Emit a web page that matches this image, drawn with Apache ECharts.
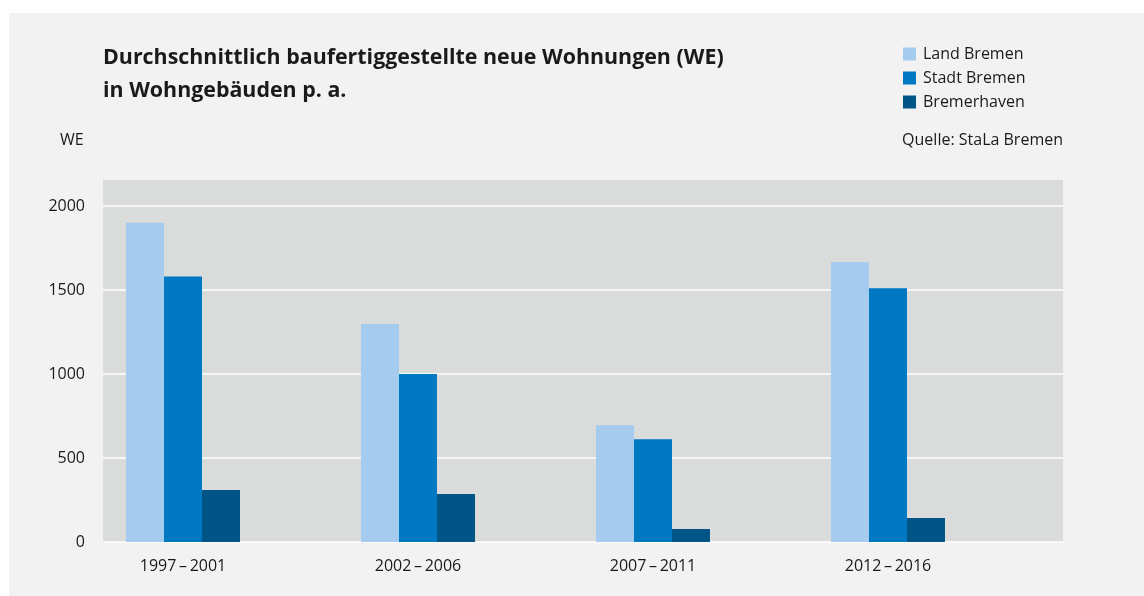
<!DOCTYPE html>
<html>
<head>
<meta charset="utf-8">
<script src="https://cdn.jsdelivr.net/npm/echarts@6/dist/echarts.min.js"></script>
<style>
  html, body { margin: 0; padding: 0; background: #ffffff; }
  #main { width: 1144px; height: 596px; }
</style>
</head>
<body>
<div id="main"></div>
<script>
// Data
const periods = ["1997\u2009–\u20092001", "2002\u2009–\u20092006", "2007\u2009–\u20092011", "2012\u2009–\u20092016"];
const landBremen = [1900, 1298, 695, 1666];
const stadtBremen = [1581, 1000, 612, 1511];
const bremerhaven = [310, 286, 77, 143];
const yTicks = [0, 500, 1000, 1500, 2000];

const font = "'Open Sans', 'Noto Sans', sans-serif";
let myChart = echarts.init(document.getElementById("main"));

let options = {
  backgroundColor: "#ffffff",
  textStyle: { fontFamily: font },
  animation: false,
  title: {
    text: "Durchschnittlich baufertiggestellte neue Wohnungen (WE)\nin Wohngebäuden p. a.",
    left: 98,
    top: 36,
    textStyle: { fontSize: 21.4, fontWeight: "bold", color: "#1a1a1a", lineHeight: 33, fontFamily: font }
  },
  legend: {
    orient: "vertical",
    left: 898,
    top: 41,
    itemWidth: 13,
    itemHeight: 13,
    itemGap: 8,
    icon: "rect",
    textStyle: { fontSize: 16, color: "#1a1a1a", lineHeight: 13, padding: [0, 0, 0, 2] },
    data: ["Land Bremen", "Stadt Bremen", "Bremerhaven"]
  },
  graphic: [
    { type: "rect", z: -10, shape: { x: 9, y: 13, width: 1135, height: 583 }, style: { fill: "#f2f2f2" } },
    { type: "rect", z: -5, shape: { x: 103, y: 180, width: 960, height: 362 }, style: { fill: "#dadbdb" } },
    { type: "text", left: 60, top: 132, style: { text: "WE", fontSize: 16, fill: "#1a1a1a", fontFamily: font } },
    { type: "text", right: 81, top: 132, style: { text: "Quelle: StaLa Bremen", fontSize: 16, fill: "#1a1a1a", fontFamily: font } }
  ],
  grid: [
    // background grid for y axis and split lines
    { left: 103, right: 81, top: 206, bottom: 54 },
    // bar grid, shifted so groups sit where the reference has them
    { left: 65.5, right: 138.5, top: 206, bottom: 54 }
  ],
  xAxis: [
    { gridIndex: 0, type: "category", data: periods, show: false },
    {
      gridIndex: 1,
      type: "category",
      data: periods,
      axisLine: { show: false },
      axisTick: { show: false },
      axisLabel: { fontSize: 16, color: "#1a1a1a", margin: 16 }
    }
  ],
  yAxis: [
    {
      gridIndex: 0,
      type: "value",
      min: yTicks[0],
      max: yTicks[yTicks.length - 1],
      interval: 500,
      axisLine: { show: false },
      axisTick: { show: false },
      axisLabel: { fontSize: 16, color: "#1a1a1a", margin: 18, formatter: (v) => String(v) },
      splitLine: { lineStyle: { color: "#ffffff", width: 1.5 } }
    },
    {
      gridIndex: 1,
      type: "value",
      min: yTicks[0],
      max: yTicks[yTicks.length - 1],
      interval: 500,
      show: false,
      splitLine: { show: false }
    }
  ],
  series: [
    { name: "Land Bremen", type: "bar", xAxisIndex: 1, yAxisIndex: 1, data: landBremen, barWidth: 38, barGap: "0%", itemStyle: { color: "#a5cbee" } },
    { name: "Stadt Bremen", type: "bar", xAxisIndex: 1, yAxisIndex: 1, data: stadtBremen, barWidth: 38, barGap: "0%", itemStyle: { color: "#0079c2" } },
    { name: "Bremerhaven", type: "bar", xAxisIndex: 1, yAxisIndex: 1, data: bremerhaven, barWidth: 38, barGap: "0%", itemStyle: { color: "#005486" } }
  ]
};
myChart.setOption(options);
</script>
</body>
</html>
